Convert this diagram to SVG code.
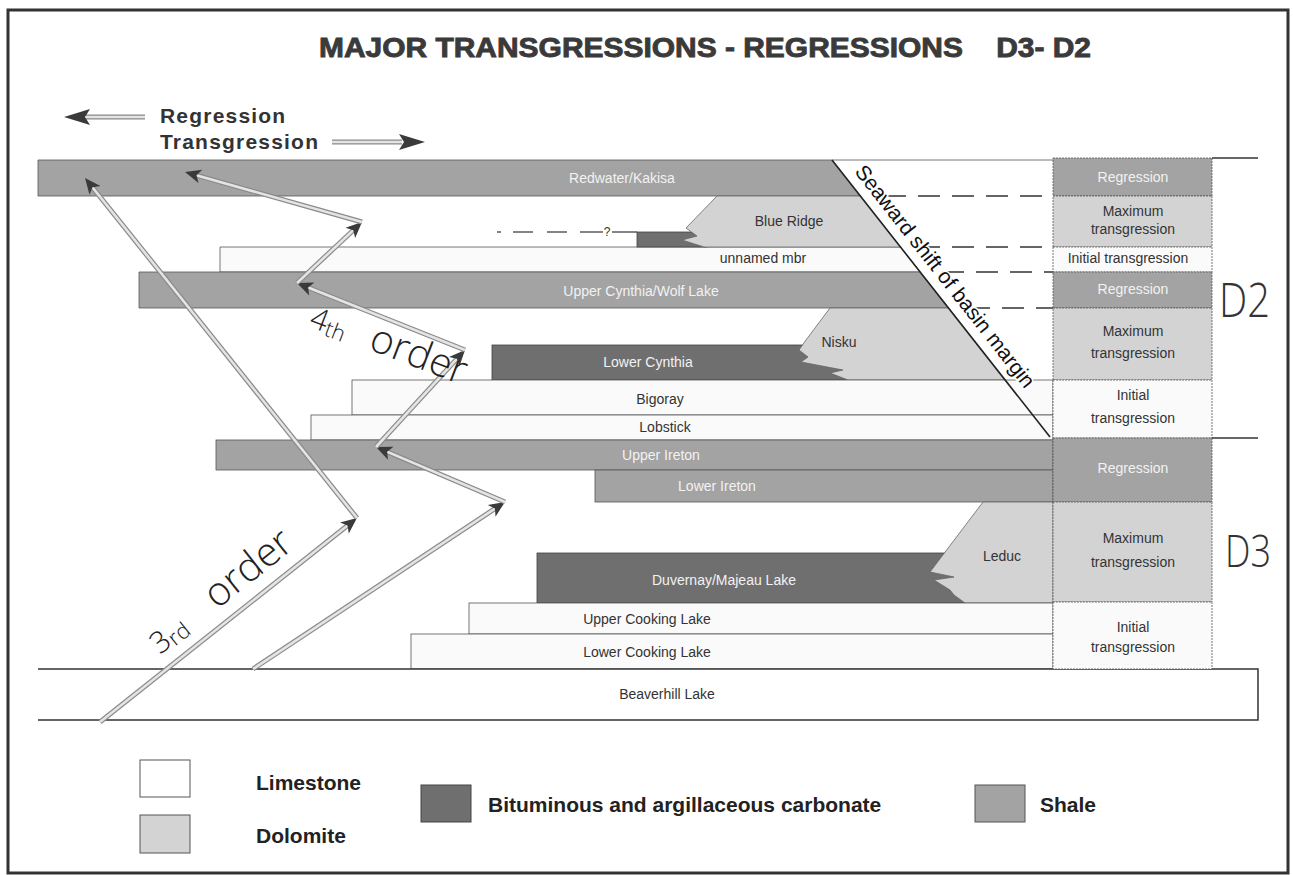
<svg xmlns="http://www.w3.org/2000/svg" width="1293" height="875" viewBox="0 0 1293 875">
<style>
.lbl{font-family:"Liberation Sans",Arial,sans-serif;font-size:14px;text-anchor:middle}
.dk{fill:#333}
.lt{fill:#f2f2f2}
.sh{fill:#a3a3a3;stroke:#555;stroke-width:0.8}
.do{fill:#d3d3d3;stroke:#666;stroke-width:0.8}
.bi{fill:#6f6f6f;stroke:#444;stroke-width:0.8}
.ls{fill:#fafafa;stroke:#555;stroke-width:0.8}
.cell{stroke:#555;stroke-width:0.8;stroke-dasharray:2 1}
.cw{fill:none;stroke:#8a8a8a;stroke-width:5;stroke-linecap:butt}
.ci{fill:none;stroke:#e4e4e4;stroke-width:2.6;marker-end:url(#ah)}
.dash{stroke:#333;stroke-width:1.3;stroke-dasharray:22 12}
.leg{font-family:"Liberation Sans",Arial,sans-serif;font-size:21px;font-weight:bold;fill:#222}
.ord{font-family:"Open Sans",Lato,"Liberation Sans",sans-serif;font-weight:300;fill:#222}
.big{font-family:"Open Sans","Liberation Sans",sans-serif;font-weight:300;fill:#333}
</style>
<defs>
<marker id="ah" markerUnits="userSpaceOnUse" markerWidth="18" markerHeight="16" refX="8" refY="8" orient="auto" overflow="visible">
<path d="M16,8 L0,1 L4,8 L0,15 Z" fill="#3a3a3a"/>
</marker>
</defs>
<rect width="1293" height="875" fill="#fff"/>
<rect x="8" y="10" width="1280" height="863" fill="none" stroke="#333" stroke-width="3"/>

<text x="319" y="57" xml:space="preserve" textLength="772" lengthAdjust="spacingAndGlyphs" style="font-family:'Liberation Sans',Arial,sans-serif;font-size:28px;font-weight:900;fill:#3a3a3a;stroke:#3a3a3a;stroke-width:0.9">MAJOR TRANSGRESSIONS - REGRESSIONS    D3- D2</text>

<g id="key-arrows">
<line x1="145" y1="117" x2="86" y2="117" stroke="#8a8a8a" stroke-width="5"/>
<line x1="145" y1="117" x2="86" y2="117" stroke="#e4e4e4" stroke-width="2.6"/>
<polygon points="64,117 90,109 85,117 90,125" fill="#3a3a3a"/>
<text x="160" y="123" style="font-family:'Liberation Sans',Arial,sans-serif;font-size:21px;font-weight:bold;letter-spacing:1.2px;fill:#333">Regression</text>
<text x="160" y="149" style="font-family:'Liberation Sans',Arial,sans-serif;font-size:21px;font-weight:bold;letter-spacing:1.2px;fill:#333">Transgression</text>
<line x1="332" y1="142" x2="402" y2="142" stroke="#8a8a8a" stroke-width="5"/>
<line x1="332" y1="142" x2="402" y2="142" stroke="#e4e4e4" stroke-width="2.6"/>
<polygon points="425,142 399,134 404,142 399,150" fill="#3a3a3a"/>
</g>

<g id="white-wedge">
<polygon points="832,160 1053,160 1053,437 1050,437" fill="#fff"/>
<line x1="832" y1="160" x2="1053" y2="160" stroke="#555" stroke-width="0.8"/>
<line x1="884" y1="196" x2="1053" y2="196" class="dash"/>
<line x1="918" y1="247" x2="1053" y2="247" class="dash"/>
<line x1="942" y1="272" x2="1053" y2="272" class="dash"/>
<line x1="968" y1="308" x2="1053" y2="308" class="dash"/>
</g>

<g id="redwater"><polygon class="sh" points="38,160 832,160 860.3,196 38,196"/><text class="lbl lt" x="622" y="183">Redwater/Kakisa</text></g>
<g id="unnamed"><polygon class="ls" points="220,247 900.5,247 920.1,272 220,272"/><text class="lbl dk" x="763" y="263">unnamed mbr</text></g>
<g id="query">
<line x1="497" y1="232" x2="501" y2="232" stroke="#333" stroke-width="1.2"/>
<line x1="513" y1="232" x2="533" y2="232" stroke="#333" stroke-width="1.2"/>
<line x1="547" y1="232" x2="567" y2="232" stroke="#333" stroke-width="1.2"/>
<line x1="580" y1="232" x2="603" y2="232" stroke="#333" stroke-width="1.2"/>
<text x="607" y="236" style="font-family:'Liberation Sans',Arial,sans-serif;font-size:12px;fill:#333;text-anchor:middle">?</text>
<line x1="612" y1="232" x2="637" y2="232" stroke="#333" stroke-width="1.2"/>
<rect class="bi" x="637" y="232" width="70" height="15"/>
</g>
<g id="blue-ridge"><polygon class="do" points="717,196 860.3,196 900.5,247 704,247 682,240 697,236 686,228"/><text class="lbl dk" x="789" y="226">Blue Ridge</text></g>
<g id="upper-cynthia"><polygon class="sh" points="139,272 920.1,272 948.5,308 139,308"/><text class="lbl lt" x="641" y="296">Upper Cynthia/Wolf Lake</text></g>
<g id="lower-cynthia"><rect class="bi" x="492" y="345" width="355" height="35"/><text class="lbl lt" x="648" y="367">Lower Cynthia</text></g>
<g id="nisku"><polygon class="do" points="830,308 948.5,308 1005.1,380 848,380 830,373 843,370 801,362 808,357 799,350 806,340"/><text class="lbl dk" x="839" y="347">Nisku</text></g>
<g id="bigoray"><rect class="ls" x="352" y="380" width="701" height="35"/><text class="lbl dk" x="660" y="404">Bigoray</text></g>
<g id="lobstick"><rect class="ls" x="311" y="415" width="742" height="25"/><text class="lbl dk" x="665" y="432">Lobstick</text></g>
<line x1="832" y1="160" x2="1050" y2="437" stroke="#222" stroke-width="1.6"/>
<text transform="translate(854,172) rotate(51.8)" style="font-family:'Liberation Sans',Arial,sans-serif;font-size:21px;fill:#111;stroke:#fff;stroke-width:3;paint-order:stroke">Seaward shift of basin margin</text>

<g id="upper-ireton"><rect class="sh" x="216" y="440" width="837" height="30"/><text class="lbl lt" x="661" y="460">Upper Ireton</text></g>
<g id="lower-ireton"><rect class="sh" x="595" y="470" width="458" height="32"/><text class="lbl lt" x="717" y="491">Lower Ireton</text></g>
<g id="duvernay"><rect class="bi" x="537" y="553" width="428" height="50"/><text class="lbl lt" x="724" y="585">Duvernay/Majeau Lake</text></g>
<g id="leduc"><polygon class="do" points="983,502 1053,502 1053,603 965,603 954,595 950,590 934,580 954,577 930,572"/><text class="lbl dk" x="1002" y="561">Leduc</text></g>
<g id="upper-cooking"><rect class="ls" x="469" y="603" width="584" height="31"/><text class="lbl dk" x="647" y="624">Upper Cooking Lake</text></g>
<g id="lower-cooking"><rect class="ls" x="411" y="634" width="642" height="35"/><text class="lbl dk" x="647" y="657">Lower Cooking Lake</text></g>
<g id="beaverhill"><rect x="38" y="669" width="1220" height="51" fill="#fff"/><path d="M38,669 H1258 V720 H38" fill="none" stroke="#333" stroke-width="1.5"/><text class="lbl dk" x="667" y="699">Beaverhill Lake</text></g>

<g id="column">
<rect class="cell" x="1053" y="158" width="159" height="38" fill="#a3a3a3"/>
<rect class="cell" x="1053" y="196" width="159" height="51" fill="#d3d3d3"/>
<rect class="cell" x="1053" y="247" width="159" height="25" fill="#fafafa"/>
<rect class="cell" x="1053" y="272" width="159" height="36" fill="#a3a3a3"/>
<rect class="cell" x="1053" y="308" width="159" height="72" fill="#d3d3d3"/>
<rect class="cell" x="1053" y="380" width="159" height="58" fill="#fafafa"/>
<rect class="cell" x="1053" y="438" width="159" height="64" fill="#a3a3a3"/>
<rect class="cell" x="1053" y="502" width="159" height="100" fill="#d3d3d3"/>
<rect class="cell" x="1053" y="602" width="159" height="67" fill="#fafafa"/>
<text class="lbl lt" x="1133" y="182">Regression</text>
<text class="lbl dk" x="1133" y="216">Maximum</text>
<text class="lbl dk" x="1133" y="234">transgression</text>
<text class="lbl dk" x="1128" y="263">Initial transgression</text>
<text class="lbl lt" x="1133" y="294">Regression</text>
<text class="lbl dk" x="1133" y="336">Maximum</text>
<text class="lbl dk" x="1133" y="358">transgression</text>
<text class="lbl dk" x="1133" y="400">Initial</text>
<text class="lbl dk" x="1133" y="423">transgression</text>
<text class="lbl lt" x="1133" y="473">Regression</text>
<text class="lbl dk" x="1133" y="543">Maximum</text>
<text class="lbl dk" x="1133" y="567">transgression</text>
<text class="lbl dk" x="1133" y="632">Initial</text>
<text class="lbl dk" x="1133" y="652">transgression</text>
</g>
<g id="divisions">
<line x1="1212" y1="158" x2="1258" y2="158" stroke="#333" stroke-width="1.5"/>
<line x1="1212" y1="438" x2="1258" y2="438" stroke="#333" stroke-width="1.5"/>
<text class="big" x="1219" y="317" textLength="51" lengthAdjust="spacingAndGlyphs" font-size="47">D2</text>
<text class="big" x="1225" y="567" textLength="46" lengthAdjust="spacingAndGlyphs" font-size="44">D3</text>
</g>

<g id="connectors">
<path class="cw" d="M100,722 L350.7,523"/><path class="ci" d="M100,722 L350.7,523"/>
<path class="cw" d="M357,518 L90,184.2"/><path class="ci" d="M357,518 L90,184.2"/>
<path class="cw" d="M253,669 L498.3,506.4"/><path class="ci" d="M253,669 L498.3,506.4"/>
<path class="cw" d="M505,502 L383.4,450.1"/><path class="ci" d="M505,502 L383.4,450.1"/>
<path class="cw" d="M376,447 L459.6,355.9"/><path class="ci" d="M376,447 L459.6,355.9"/>
<path class="cw" d="M465,350 L304.4,286"/><path class="ci" d="M465,350 L304.4,286"/>
<path class="cw" d="M297,283 L356.2,227.5"/><path class="ci" d="M297,283 L356.2,227.5"/>
<path class="cw" d="M362,222 L192.7,174.2"/><path class="ci" d="M362,222 L192.7,174.2"/>
</g>

<text class="ord" transform="translate(308,326) rotate(21)"><tspan font-size="30">4</tspan><tspan font-size="22" dy="3">th</tspan><tspan font-size="40" dx="26" dy="-3">order</tspan></text>
<text class="ord" transform="translate(160,655) rotate(-38.5)"><tspan font-size="30">3</tspan><tspan font-size="22" dy="3">rd</tspan><tspan font-size="40" dx="34" dy="-3">order</tspan></text>

<g id="legend">
<rect x="140" y="760" width="50" height="37" fill="#fff" stroke="#555" stroke-width="1"/>
<text class="leg" x="256" y="790">Limestone</text>
<rect x="140" y="815" width="50" height="38" fill="#d3d3d3" stroke="#555" stroke-width="1"/>
<text class="leg" x="256" y="843">Dolomite</text>
<rect x="421" y="785" width="50" height="37" fill="#6f6f6f" stroke="#444" stroke-width="1"/>
<text class="leg" x="488" y="812">Bituminous and argillaceous carbonate</text>
<rect x="975" y="785" width="50" height="37" fill="#a3a3a3" stroke="#555" stroke-width="1"/>
<text class="leg" x="1040" y="812">Shale</text>
</g>
</svg>
